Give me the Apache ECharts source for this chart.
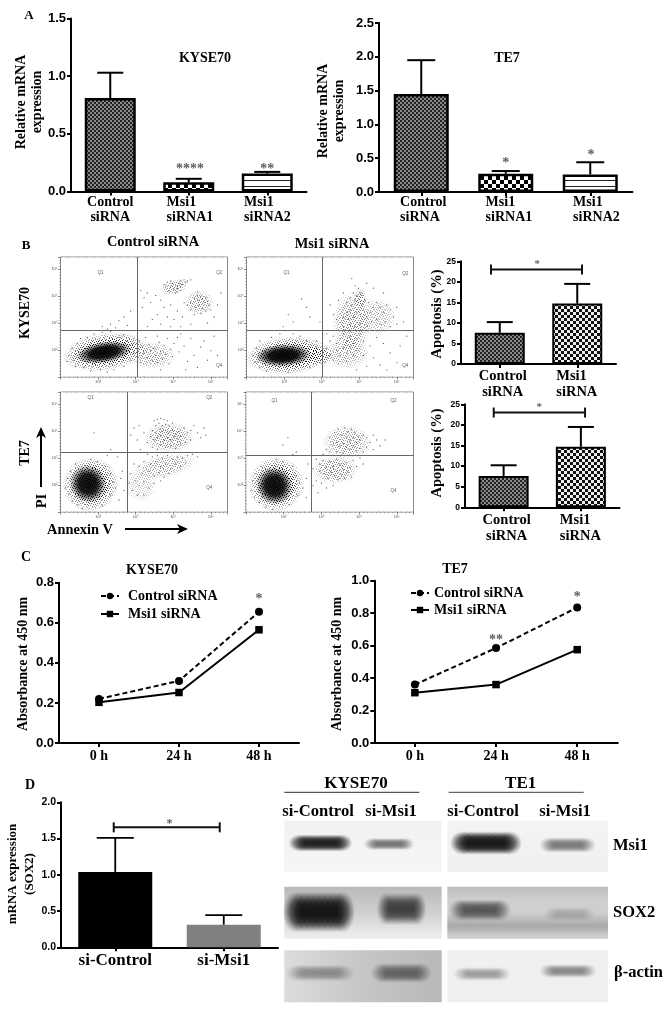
<!DOCTYPE html>
<html><head><meta charset="utf-8">
<style>html,body{margin:0;padding:0;background:#fff}#c{width:669px;height:1016px}</style>
<script src="https://cdn.jsdelivr.net/npm/echarts@6/dist/echarts.min.js"></script>
</head><body><div id="c"></div>
<script>
// ---------- values ----------
const catsA = ['Control\nsiRNA','Msi1\nsiRNA1','Msi1\nsiRNA2'];
const catsB = ['Control\nsiRNA','Msi1\nsiRNA'];
const catsC = ['0 h','24 h','48 h'];
const catsD = ['si-Control','si-Msi1'];
const kyseMrna = [0.81,0.08,0.155], kyseMrnaTop = [1.03,0.11,0.17];
const te7Mrna = [1.45,0.27,0.26], te7MrnaTop = [1.95,0.31,0.44];
const apoptosis = [7.6,14.7], apoptosisTop = [10.2,19.5];
const kyseCtrl = [0.22,0.31,0.655], kyseMsi = [0.203,0.252,0.565];
const te7Ctrl = [0.36,0.585,0.835], te7Msi = [0.31,0.36,0.575];
const sox2 = [1.04,0.31], sox2Top = [1.51,0.445];
const decadeLabels = ['','10²','10³','10⁴','10⁵'];

// flow cytometry: individually read dots, in % of each plot frame
const flowDots1 = [[62,77],[64,79],[66,75],[67,78],[68,73],[69,76],[70,74],[71,78],[72,80],[73,77],[74,81],[76,80],[78,81],[65,72],[69,70],[70,71],[72,72],[66,80],[63,76],[75,79],
[78,62],[80,66],[82,68],[83,64],[84,67],[85,65],[86,62],[87,66],[88,63],[83,60],[81,58],[85,57],[87,55],[84,53],[80,52],[89,60],[90,56],[82,71],[78,56],[76,60],
[48,72],[50,66],[52,70],[54,62],[57,68],[60,64],[62,58],[66,60],[70,55],[73,50],[68,48],[64,50],[58,52],[55,48],[60,44],[74,62],[94,60],[92,50],[96,70],[88,45],[52,42],[49,58],[72,42],[78,44],[66,42],
[47,30],[49,25],[50,20],[52,16],[53,27],[54,22],[55,14],[56,24],[57,18],[58,12],[59,29],[60,21],[61,15],[62,26],[63,19],[64,32],[65,11],[66,23],[67,17],[68,28],[70,33],[71,21],[72,36],[74,26],[76,13],[78,32],[80,18],[82,8],[84,25],[86,30],[88,14],[90,22],[92,34],[94,18],[75,6],[60,6],[48,12],[51,33],[58,34],
[25,42],[30,44],[35,47],[38,50],[33,41],[42,55],[28,40],[40,43],
[5,18],[7,24],[8,14],[10,28],[9,9],[12,32],[14,8],[16,33],[20,36],[24,6],[25,37],[30,38],[35,33],[38,35],[40,30],[43,27],[42,14],[44,20],[38,9],[32,6],[28,4],[18,5],[4,13],[44,32]];
const flowDots2 = [[63,82],[65,76],[67,74],[68,70],[69,68],[66,68],[64,70],[62,66],[60,62],[63,60],[65,64],[67,62],[69,60],[71,64],[73,62],[62,56],[60,54],[58,50],[61,48],[64,50],[66,54],[68,52],[70,56],[72,50],[74,54],[76,58],[78,62],[80,58],[82,54],[84,60],[86,56],[88,50],[90,58],[78,48],[80,44],[83,46],[86,42],[75,46],[72,42],[68,44],[65,42],[62,44],[58,42],[54,48],[52,52],[50,60],[55,64],[58,70],[72,78],[76,74],[82,70],[90,44],[94,46],
[48,36],[50,30],[52,34],[54,28],[56,32],[58,36],[60,30],[62,34],[64,28],[66,32],[68,36],[70,30],[58,24],[60,20],[62,25],[64,18],[56,18],[54,22],[52,14],[50,18],[48,24],[47,12],[55,11],[60,13],[66,22],[70,18],[74,26],[78,33],[82,28],[86,20],[90,12],[76,16],[80,10],[84,6],[72,9],[66,6],[92,26],[96,34],
[4,18],[5,12],[6,24],[8,8],[8,30],[12,5],[15,33],[20,36],[25,4],[28,36],[32,34],[36,30],[38,8],[42,25],[44,12],[42,30],[28,46],[25,52],[36,58],[33,65],[38,50],[22,42],[44,46]];
const flowDots3 = [[56,76],[58,77],[60,78],[62,77],[64,76],[57,72],[59,74],[61,72],[63,73],[65,72],[67,74],[55,68],[57,66],[59,69],[61,67],[63,68],[65,66],[67,68],[69,65],[71,67],[54,63],[56,60],[58,62],[60,64],[62,60],[64,62],[66,60],[68,63],[70,61],[72,63],[74,70],[76,66],[78,68],[80,72],[82,66],[84,62],[86,70],[87,64],[75,58],[78,60],[60,56],[63,54],[66,55],[69,53],[72,56],[58,52],[55,54],[52,58],[50,66],[47,72],[44,70],[46,60],[42,64],[48,52],
[52,48],[55,46],[58,47],[61,45],[64,47],[67,44],[70,46],[73,45],[76,47],[79,48],[82,46],[50,42],[54,40],[57,42],[60,38],[63,40],[66,36],[69,40],[72,38],[75,41],[47,38],[49,32],[53,34],[56,30],[59,33],[62,29],[65,32],[44,40],[42,32],[45,26],[47,22],[50,25],[53,20],[56,24],[43,18],[46,14],[50,14],[41,24],[60,26],
[3,20],[4,28],[5,15],[6,34],[7,9],[9,40],[10,6],[13,3],[18,44],[22,42],[25,5],[27,38],[30,32],[30,14],[32,25],[33,20],[36,28],[35,10],[37,34],[38,18],[28,47],[34,46],[20,66],[30,52]];
const flowDots4 = [[50,62],[53,66],[55,69],[57,64],[59,70],[61,67],[63,69],[65,66],[67,63],[60,62],[62,60],[64,62],[66,58],[68,60],[70,64],[72,62],[74,58],[76,64],[78,60],[52,56],[54,58],[56,55],[58,57],[60,54],[62,52],[64,55],[66,51],[68,53],[70,50],[72,54],[48,52],[50,50],[46,48],[54,50],[58,49],[80,55],[83,60],[76,52],
[42,44],[44,40],[46,43],[48,37],[50,42],[52,38],[54,44],[56,40],[58,35],[60,41],[62,37],[64,43],[66,38],[68,45],[70,40],[47,32],[49,28],[51,33],[53,30],[55,27],[57,31],[59,28],[61,33],[63,29],[44,34],[42,26],[40,22],[45,24],[40,36],[43,16],[48,20],[52,22],
[3,18],[4,26],[5,12],[6,32],[8,8],[9,38],[12,4],[16,2],[18,44],[22,42],[26,6],[28,38],[30,30],[31,14],[32,24],[34,20],[36,28],[36,12],[22,56],[30,50],[25,62],[28,48],[37,40]];
// density regions of the same plots: [cx, cy, rx, ry, tiltDeg, darkness]
const flowClouds1 = [[27,21,26,16,8,1],[55,18,14,12,0,.42],[68,75,9,6,15,.5],[83,62,9,11,0,.45]];
const flowClouds2 = [[25,18,26,16,4,1],[42,18,11,8,0,.7],[63,45,12,26,0,.5],[78,50,12,16,0,.35],[68,65,4,9,0,.6],[60,20,14,14,0,.4]];
const flowClouds3 = [[18,23,17,23,25,1],[65,62,15,13,0,.5],[62,38,20,10,12,.4],[48,22,10,14,30,.25]];
const flowClouds4 = [[18,23,17,23,20,1],[60,58,15,15,0,.45],[53,35,14,12,0,.5]];
const flowCores = [[[26,20.5,17,9,9,.97]],[[22,18,17,9.5,3,.98]],[[16.5,23.5,11,16,25,.95]],[[17,22,11,16,20,.95]]];
const flowGates = [[45.9,38.9],[45.5,38.6],[39.9,49.7],[38.8,47.2]];
const flowQ = [[[24,87,'Q1'],[95,87,'Q2'],[95,9,'Q4']],[[24,87,'Q1'],[95,86,'Q2'],[95,9,'Q4']],[[18,95,'Q1'],[89,95,'Q2'],[89,20,'Q4']],[[17,93,'Q1'],[88,93,'Q2'],[88,18,'Q4']]];

// western blot bands: [laneStart, laneEnd, rowCentre, thickness, density]
const msi1Bands = [[9,64,23,11,.95],[83,127,24,8,.65],[171,233,23,15,1],[259,308,25,10,.62]];
const sox2Bands = [[4,66,92,26,1],[96,139,89,21,.82],[169,223,90,14,.72],[263,308,94,9,.25]];
const actinBands = [[6,66,153,11,.45],[91,144,153,13,.62],[173,223,154,9,.45],[259,309,151,9,.55]];

// ---------- helpers ----------
const SERIF='"Liberation Serif"', SANS='"Liberation Sans"';
function pat(size,draw){const c=document.createElement('canvas');c.width=c.height=size;draw(c.getContext('2d'),size);return {image:c,repeat:'repeat'};}
function check(cell,a,b){return pat(cell*2,(g)=>{g.fillStyle=b;g.fillRect(0,0,cell*2,cell*2);g.fillStyle=a;g.fillRect(0,0,cell,cell);g.fillRect(cell,cell,cell,cell);});}
const fine=check(2,'#222','#8a8a8a'), mid=check(3,'#111','#eee'), big=check(4,'#000','#fff');
const stripes=pat(6,(g)=>{g.fillStyle='#fff';g.fillRect(0,0,6,6);g.fillStyle='#222';g.fillRect(0,0,6,1);});
// texture that breaks the density regions up into specks
const speckleTile=["..#....#..#...#..","#...#.....#.#....","...#..#.#.....#.#",".#.....#...#.#...","...#.#...#.....#.","#.....#.....#.#..","..#.#...#.#.....#",".....#.#...#.#...",".#.#.....#.....#.","....#.#.....#.#..","#.#.....#.#.....#","...#.#.....#.#...",".#.....#.#.....#."];
const speckle=(()=>{const c=document.createElement('canvas');c.width=17;c.height=13;const g=c.getContext('2d');g.fillStyle='#fff';speckleTile.forEach((r,y)=>[...r].forEach((ch,x)=>{if(ch==='.')g.fillRect(x,y,1,1);}));return {image:c,repeat:'repeat'};})();

const grid=[],xAxis=[],yAxis=[],series=[],legend=[],graphic=[];
function text(t,x,y,size,opt={}){graphic.push({type:'text',x,y,rotation:opt.rot?Math.PI/2:0,silent:true,z:10,style:{text:t,x:0,y:0,align:opt.align||'center',verticalAlign:'middle',lineHeight:opt.lh||size+2,fill:opt.fill||'#000',font:'bold '+size+'px '+(opt.font||SERIF)}});}

function panel(box,yMax,yInt,cats,tickSize,labelCfg,xVal){
  const g=grid.length;
  grid.push({left:box[0],top:box[1],width:box[2],height:box[3]});
  const axisLine={show:true,lineStyle:{color:'#000',width:2}};
  xAxis.push({gridIndex:g,type:'category',data:cats,axisLine,axisTick:{show:true,alignWithLabel:true,length:4,lineStyle:{width:2,color:'#000'}},axisLabel:labelCfg});
  xAxis.push({gridIndex:g,type:'value',min:0,max:xVal,show:false});
  yAxis.push({gridIndex:g,type:'value',min:0,max:yMax,interval:yInt,splitLine:{show:false},axisLine,axisTick:{show:true,length:4,lineStyle:{width:2,color:'#000'}},
    axisLabel:{color:'#000',fontFamily:SANS,fontWeight:'bold',fontSize:tickSize,margin:5,formatter:v=>yInt>=1?String(v):v.toFixed(1)}});
  return {x:xAxis.length-2,xv:xAxis.length-1,y:yAxis.length-1};
}
function bars(ax,vals,tops,fills,barW,capW,border,errW){
  series.push({type:'bar',xAxisIndex:ax.x,yAxisIndex:ax.y,barWidth:barW,data:vals.map((v,i)=>({value:v,itemStyle:{color:fills[i],borderColor:border===0?fills[i]:'#000',borderWidth:border}}))});
  series.push({type:'custom',xAxisIndex:ax.x,yAxisIndex:ax.y,z:1,data:vals.map((v,i)=>[i,v,tops[i]]),encode:{x:0,y:[1,2]},
    renderItem:(p,api)=>{const a=api.coord([api.value(0),api.value(1)]),b=api.coord([api.value(0),api.value(2)]);
      const st={stroke:'#000',lineWidth:errW,fill:null};
      return {type:'group',children:[{type:'line',shape:{x1:a[0],y1:a[1],x2:b[0],y2:b[1]},style:st},{type:'line',shape:{x1:b[0]-capW/2,y1:b[1],x2:b[0]+capW/2,y2:b[1]},style:st}]};}});
}
function stars(ax,pts,size){
  series.push({type:'scatter',xAxisIndex:ax.xv,yAxisIndex:ax.y,clip:false,z:6,symbolSize:1,itemStyle:{color:'rgba(0,0,0,0)'},data:pts,
    label:{show:true,position:'inside',formatter:p=>p.value[2],color:'#333',fontFamily:SERIF,fontWeight:'bold',fontSize:size}});
}
function bracket(ax,x0,x1,y,w){
  series.push({type:'custom',xAxisIndex:ax.xv,yAxisIndex:ax.y,clip:false,data:[[x0,x1,y]],encode:{x:[0,1],y:2},
    renderItem:(p,api)=>{const a=api.coord([api.value(0),api.value(2)]),b=api.coord([api.value(1),api.value(2)]);const st={stroke:'#111',lineWidth:w,fill:null};
      return {type:'group',children:[{type:'line',shape:{x1:a[0],y1:a[1],x2:b[0],y2:b[1]},style:st},{type:'line',shape:{x1:a[0],y1:a[1]-5,x2:a[0],y2:a[1]+5},style:st},{type:'line',shape:{x1:b[0],y1:b[1]-5,x2:b[0],y2:b[1]+5},style:st}]};}});
}
function catLabel(size,lh,margin,pads,centerFirst,firstPad){
  const base={fontFamily:SERIF,fontWeight:'bold',fontSize:size,lineHeight:lh,color:'#000'};
  const rich={c:{...base,align:'center',width:size*3.6,padding:[0,0,0,firstPad||0]}};
  pads.forEach((p,i)=>{rich['l'+i]={...base,align:'left',width:size*3.45,padding:[0,0,0,p]};});
  return {margin,interval:0,rich,formatter:(v,i)=>v.split('\n').map(s=>(centerFirst&&i===0)?'{c|'+s+'}':'{l'+i+'|'+s+'}').join('\n')};
}
function blob(cx,cy,rx,ry,rot,a,flat,mid){
  const stops=[{offset:0,color:'rgba(0,0,0,'+a+')'},{offset:flat,color:'rgba(0,0,0,'+(a*mid)+')'},{offset:1,color:'rgba(0,0,0,0)'}];
  return {type:'circle',shape:{cx:0,cy:0,r:1},x:cx,y:cy,scaleX:rx,scaleY:ry,rotation:rot,style:{fill:new echarts.graphic.RadialGradient(.5,.5,.5,stops)}};
}
function cloudSeries(xi,yi,data,z,flat){
  series.push({type:'custom',xAxisIndex:xi,yAxisIndex:yi,clip:true,z,data,encode:{x:0,y:1},
    renderItem:(p,api)=>{const c=api.coord([api.value(0),api.value(1)]),s=api.size([api.value(2),api.value(3)]);return blob(c[0],c[1],s[0],s[1],api.value(4)*Math.PI/180,api.value(5),flat,.92);}});
}
function flow(box,dots,clouds,core,gates,qs){
  const g=grid.length;
  grid.push({left:box[0],top:box[1],width:box[2],height:box[3],show:true,borderColor:'#888',borderWidth:1,backgroundColor:'#fff'});
  const ax=()=>({gridIndex:g,type:'value',min:0,max:100,interval:22.5,splitLine:{show:false},
    axisLine:{show:false},axisTick:{show:true,length:2.5,lineStyle:{color:'#555',width:.7}},minorTick:{show:true,splitNumber:9,length:1.2,lineStyle:{color:'#666',width:.5}},
    axisLabel:{show:true,fontSize:4,color:'#555',margin:3,showMaxLabel:false,formatter:(v)=>decadeLabels[Math.round(v/22.5)]||''}});
  xAxis.push(ax());yAxis.push(ax());
  const xi=xAxis.length-1,yi=yAxis.length-1;
  cloudSeries(xi,yi,clouds,2,.55);
  graphic.push({type:'rect',silent:true,z:3,shape:{x:box[0]+.5,y:box[1]+.5,width:box[2]-1,height:box[3]-1},style:{fill:speckle}});
  cloudSeries(xi,yi,core,4,.5);
  series.push({type:'scatter',xAxisIndex:xi,yAxisIndex:yi,z:5,symbolSize:1.3,itemStyle:{color:'#444',opacity:.85},data:dots,silent:true,
    markLine:{silent:true,symbol:'none',animation:false,label:{show:false},lineStyle:{color:'#666',width:1,type:'solid'},data:[{xAxis:gates[0]},{yAxis:gates[1]}]}});
  series.push({type:'scatter',xAxisIndex:xi,yAxisIndex:yi,z:6,symbolSize:1,itemStyle:{color:'rgba(0,0,0,0)'},data:qs,
    label:{show:true,position:'inside',formatter:p=>p.value[2],fontSize:4.5,color:'#333',fontFamily:SANS}});
}
function lines(ax,nameA,a,nameB,b){
  series.push({type:'line',name:nameA,xAxisIndex:ax.x,yAxisIndex:ax.y,data:a,symbol:'circle',symbolSize:8,lineStyle:{color:'#000',width:2,type:[5,3]},itemStyle:{color:'#000'}});
  series.push({type:'line',name:nameB,xAxisIndex:ax.x,yAxisIndex:ax.y,data:b,symbol:'rect',symbolSize:7.5,lineStyle:{color:'#000',width:2},itemStyle:{color:'#000'}});
}
function lineLegend(left,top,gap,pad){
  legend.push({left,top,padding:0,orient:'vertical',itemWidth:18,itemHeight:8,itemGap:gap,selectedMode:false,data:['Control siRNA','Msi1 siRNA'],
    textStyle:{fontFamily:SERIF,fontWeight:'bold',fontSize:14,color:'#000',padding:[0,0,0,pad]}});
}
function arrow(x1,y1,x2,y2){
  const dx=x2-x1,dy=y2-y1,l=Math.hypot(dx,dy),ux=dx/l,uy=dy/l;
  graphic.push({type:'line',silent:true,shape:{x1,y1,x2:x2-ux*6,y2:y2-uy*6},style:{stroke:'#000',lineWidth:2}});
  graphic.push({type:'polygon',silent:true,shape:{points:[[x2,y2],[x2-ux*11-uy*5,y2-uy*11+ux*5],[x2-ux*8,y2-uy*8],[x2-ux*11+uy*5,y2-uy*11-ux*5]]},style:{fill:'#000'}});
}
function blotBg(x,y,w,h,stops,horizontal){
  graphic.push({type:'rect',silent:true,z:0,shape:{x,y,width:w,height:h},style:{fill:new echarts.graphic.LinearGradient(0,0,horizontal?1:0,horizontal?0:1,stops.map((c,i)=>({offset:i/(stops.length-1),color:c})))}});
}

// ---------- panel A ----------
let ax=panel([71,18.5,235.5,173],1.5,.5,catsA,13,catLabel(14,15,3,[0,4,2],true),3);
bars(ax,kyseMrna,kyseMrnaTop,[fine,big,stripes],51,26,2.5,2);
stars(ax,[[1.516,.195,'****'],[2.5,.195,'**']],14);
ax=panel([379,23,253.5,169],2.5,.5,catsA,13,catLabel(14,15,3,[6,8,14]),3);
bars(ax,te7Mrna,te7MrnaTop,[fine,big,stripes],55,28,2.5,2);
stars(ax,[[1.5,.42,'*'],[2.51,.54,'*']],14);
text('A',29,16,13);
text('KYSE70',205,58,14); text('TE7',507,58,14);
text('Relative mRNA\nexpression',29,102,14,{rot:1,lh:16});
text('Relative mRNA\nexpression',331.5,111,14,{rot:1,lh:16});

// ---------- panel B ----------
text('B',26,246,13);
text('Control siRNA',153,242,14.4); text('Msi1 siRNA',332,244,14.4);
text('KYSE70',25,313,14,{rot:1}); text('TE7',25,453,14,{rot:1});
text('PI',42,501,14.4,{rot:1}); text('Annexin V',80,530,14.4);
arrow(41,487,41,427); arrow(125,529,188,529);
flow([60.5,257,167,120],flowDots1,flowClouds1,flowCores[0],flowGates[0],flowQ[0]);
flow([246.5,257,167,120],flowDots2,flowClouds2,flowCores[1],flowGates[1],flowQ[1]);
flow([60.5,392,167,120],flowDots3,flowClouds3,flowCores[2],flowGates[2],flowQ[2]);
flow([246,392,167.5,120],flowDots4,flowClouds4,flowCores[3],flowGates[3],flowQ[3]);
ax=panel([461,261.3,155,102.7],25,5,catsB,8.5,catLabel(14.5,16,4,[0,8],true,6),2);
bars(ax,apoptosis,apoptosisTop,[fine,mid],50,26,2,2);
bracket(ax,.387,1.561,23,2); stars(ax,[[.985,24.2,'*']],11);
ax=panel([465,404.3,154.5,103],25,5,catsB,8.5,catLabel(14.5,16,5,[0,8],true,6),2);
bars(ax,apoptosis,apoptosisTop,[fine,mid],50,26,2,2);
bracket(ax,.372,1.554,23,2); stars(ax,[[.96,24.2,'*']],11);
text('Apoptosis (%)',437,314,14.5,{rot:1});
text('Apoptosis (%)',437,453,14.5,{rot:1});

// ---------- panel C ----------
const xLab=(m)=>({margin:m,interval:0,fontFamily:SERIF,fontWeight:'bold',fontSize:14,color:'#000'});
ax=panel([59,582.7,240,160.3],.8,.2,catsC,13,xLab(6),3);
lines(ax,'Control siRNA',kyseCtrl,'Msi1 siRNA',kyseMsi);
stars(ax,[[2.5,.715,'*']],14);
lineLegend(100,589,4,4);
ax=panel([374.3,580.7,243.5,162.3],1,.2,catsC,13,xLab(6),3);
lines(ax,'Control siRNA',te7Ctrl,'Msi1 siRNA',te7Msi);
stars(ax,[[1.5,.635,'**'],[2.5,.895,'*']],14);
lineLegend(410,586,3,0);
text('C',26,557,14);
text('KYSE70',152,570,14); text('TE7',455,569,14);
text('Absorbance at 450 nm',23,664,14,{rot:1});
text('Absorbance at 450 nm',337,664,14,{rot:1});

// ---------- panel D ----------
const dLab={margin:5,interval:0,fontFamily:SERIF,fontWeight:'bold',fontSize:17,color:'#000'};
ax=panel([61,802.3,217,145],2,.5,catsD,10.5,dLab,2);
bars(ax,sox2,sox2Top,['#000','#808080'],74,37,0,1.8);
bracket(ax,.486,1.463,1.655,2); stars(ax,[[1,1.7,'*']],12);
text('D',30,785,14);
text('mRNA expression\n(SOX2)',21,874,13,{rot:1,lh:17});
text('KYSE70',356,784,17); text('TE1',520.7,784,17);
graphic.push({type:'line',silent:true,shape:{x1:284.3,y1:792.3,x2:419.3,y2:792.3},style:{stroke:'#555',lineWidth:1.2}});
graphic.push({type:'line',silent:true,shape:{x1:448.7,y1:792.3,x2:583.7,y2:792.3},style:{stroke:'#666',lineWidth:1.2}});
text('si-Control',318,811.7,16.6); text('si-Msi1',391,811.7,16.6);
text('si-Control',483,811.7,16.6); text('si-Msi1',565,811.7,16.6);
text('Msi1',613,846,16.5,{align:'left'}); text('SOX2',613,912.7,16.5,{align:'left'}); text('β-actin',614,973,16.5,{align:'left'});
blotBg(284.3,820.7,157.4,51,['#f1f1f1','#f6f6f6']);
blotBg(447.3,820.7,160.7,51,['#f4f4f4','#f0f0f0']);
blotBg(284.3,886.7,157.4,52.3,['#b9b9b9','#d0d0d0','#f0f0f0']);
blotBg(447.3,886.7,160.7,52.3,['#bcbcbc','#cfcfcf','#cfcfcf','#a8a8a8','#d8d8d8']);
blotBg(284.3,950.3,157.4,52,['#dcdcdc','#c6c6c6','#b8b8b8'],true);
blotBg(447.3,950.3,160.7,52,['#f0f0f0','#efefef']);
{
  const g=grid.length;
  grid.push({left:284,top:820,width:324,height:182});
  xAxis.push({gridIndex:g,type:'value',min:0,max:324,show:false});
  yAxis.push({gridIndex:g,type:'value',min:0,max:182,inverse:true,show:false});
  const lobes=[.12,.215,.31,.405,.5,.595,.69,.785,.88];
  series.push({type:'custom',xAxisIndex:xAxis.length-1,yAxisIndex:yAxis.length-1,clip:false,z:3,data:[...msi1Bands,...sox2Bands,...actinBands],encode:{x:[0,1],y:2},
    renderItem:(p,api)=>{const a=api.coord([api.value(0),api.value(2)]),b=api.coord([api.value(1),api.value(2)]);const th=api.value(3),d=api.value(4),w=b[0]-a[0];
      const al=1-Math.pow(1-Math.min(d,.97),.25);
      return {type:'group',children:lobes.map(f=>blob(a[0]+w*f,a[1],w*.2,th*.8,0,al,.5,.85))};}});
}

const chart=echarts.init(document.getElementById('c'),null,{renderer:'canvas',width:669,height:1016});
chart.setOption({animation:false,backgroundColor:'#fff',tooltip:{show:false},grid,xAxis,yAxis,series,legend,graphic:{elements:graphic}});
</script></body></html>
